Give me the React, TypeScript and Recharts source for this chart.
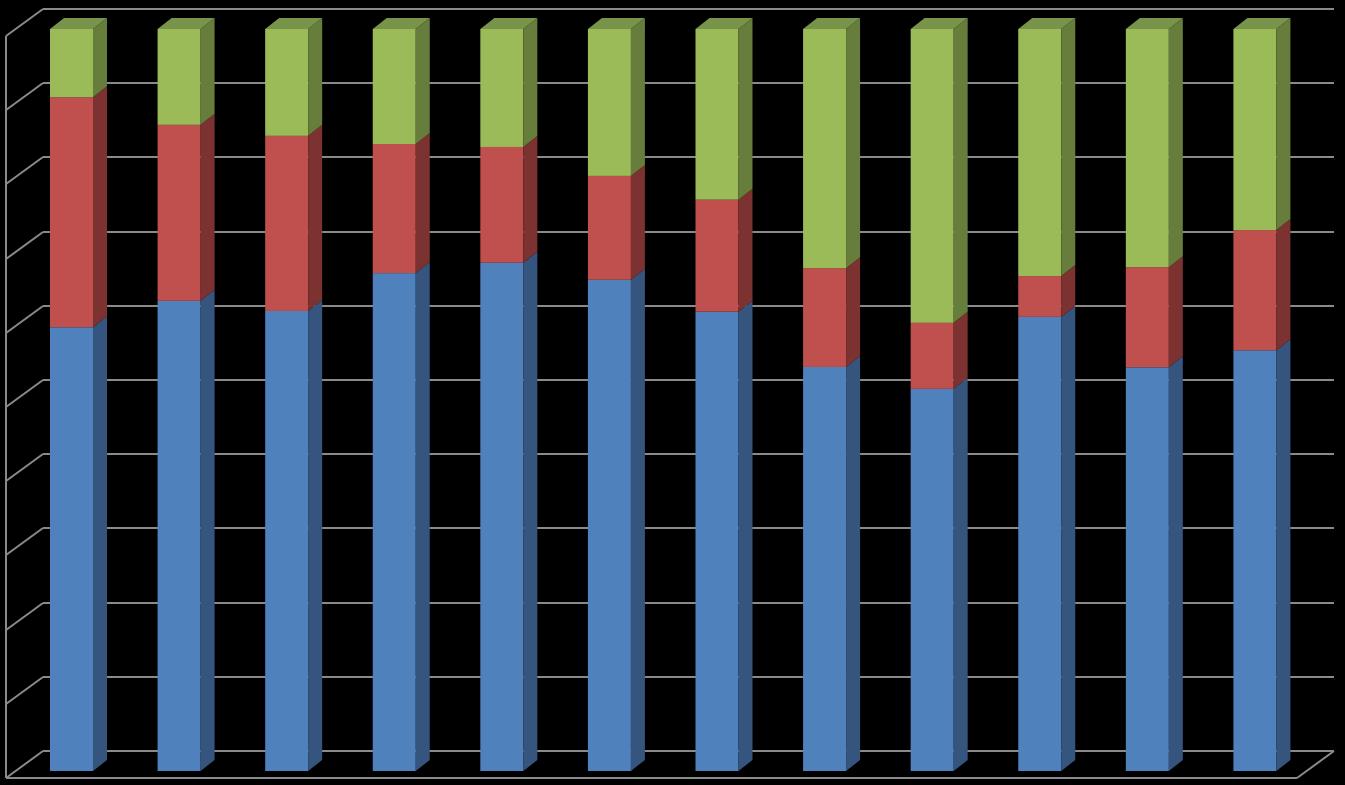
import { BarChart, Bar, XAxis, YAxis, CartesianGrid } from "recharts";

// shares (percent of each stack)
const categories = ["1", "2", "3", "4", "5", "6", "7", "8", "9", "10", "11", "12"];
const blueValues = [59.8, 63.3, 62.0, 67.1, 68.5, 66.2, 61.9, 54.4, 51.5, 61.2, 54.4, 56.7];
const redValues = [31.0, 23.7, 23.6, 17.4, 15.6, 14.0, 15.1, 13.3, 8.9, 5.5, 13.5, 16.2];
const greenValues = [9.2, 12.9, 14.4, 15.5, 15.9, 19.8, 23.0, 32.2, 39.6, 33.3, 32.1, 27.1];
const yTicks = [0, 0.1, 0.2, 0.3, 0.4, 0.5, 0.6, 0.7, 0.8, 0.9, 1];

const WIDTH = 1345;
const HEIGHT = 785;
const MARGIN = { top: 29, right: 36, bottom: 14, left: 18 };
const PLOT_BOTTOM = HEIGHT - MARGIN.bottom;

// depth of the bars and of the walls
const BAR_DX = 14;
const BAR_DY = -11;
const FRONT = { dx: -12, dy: 7 };
const BACK = { dx: 25, dy: -20 };
const GRID_COLOR = "#8a8a8a";

const data = categories.map((name, i) => ({
  name,
  blue: blueValues[i],
  red: redValues[i],
  green: greenValues[i],
}));

function makeShape(front: string, side: string, top?: string) {
  return (props: any) => {
    const { x, y, width, height } = props;
    if (!height || height <= 0) return <g />;
    const r = x + width;
    return (
      <g>
        <rect x={x} y={y} width={width} height={height} fill={front} />
        <polygon
          points={`${r},${y} ${r + BAR_DX},${y + BAR_DY} ${r + BAR_DX},${y + height + BAR_DY} ${r},${y + height}`}
          fill={side}
        />
        {top && (
          <polygon
            points={`${x},${y} ${x + BAR_DX},${y + BAR_DY} ${r + BAR_DX},${y + BAR_DY} ${r},${y}`}
            fill={top}
          />
        )}
      </g>
    );
  };
}

function gridLine(props: any) {
  const { x1, x2, y1, key } = props;
  const y = Math.round(y1);
  const isFloor = Math.abs(y1 - PLOT_BOTTOM) < 1;
  const ln = (ax: number, ay: number, bx: number, by: number) => (
    <line x1={ax} y1={ay} x2={bx} y2={by} stroke={GRID_COLOR} strokeWidth={2} />
  );
  return (
    <g key={key}>
      {ln(x1 + BACK.dx, y + BACK.dy, x2 + BACK.dx, y + BACK.dy)}
      {ln(x1 + FRONT.dx, y + FRONT.dy, x1 + BACK.dx, y + BACK.dy)}
      {isFloor && ln(x1 + FRONT.dx, y + FRONT.dy, x2 + FRONT.dx, y + FRONT.dy)}
      {isFloor && ln(x2 + FRONT.dx, y + FRONT.dy, x2 + BACK.dx, y + BACK.dy)}
      {isFloor && ln(x1 + FRONT.dx, y + FRONT.dy, x1 + FRONT.dx, MARGIN.top + FRONT.dy)}
    </g>
  );
}

const layer: React.CSSProperties = { position: "absolute", left: 0, top: 0 };

export default function App() {
  return (
    <div style={{ position: "relative", width: WIDTH, height: HEIGHT, background: "#000" }}>
      <style>{`body{margin:0;background:#000;}`}</style>
      {/* walls and grid, drawn underneath the bars */}
      <div style={layer}>
        <BarChart width={WIDTH} height={HEIGHT} data={data} margin={MARGIN} stackOffset="expand">
          <CartesianGrid vertical={false} horizontal={gridLine} />
          <XAxis dataKey="name" hide />
          <YAxis hide domain={[0, 1]} ticks={yTicks} />
        </BarChart>
      </div>
      <div style={layer}>
        <BarChart
          width={WIDTH}
          height={HEIGHT}
          data={data}
          margin={MARGIN}
          stackOffset="expand"
          barSize={43}
        >
          <XAxis dataKey="name" hide />
          <YAxis hide domain={[0, 1]} ticks={yTicks} />
          <Bar
            dataKey="blue"
            stackId="a"
            fill="#4F81BD"
            shape={makeShape("#4F81BD", "#35557F")}
            isAnimationActive={false}
          />
          <Bar
            dataKey="red"
            stackId="a"
            fill="#C0504D"
            shape={makeShape("#C0504D", "#7C3230")}
            isAnimationActive={false}
          />
          <Bar
            dataKey="green"
            stackId="a"
            fill="#9BBB59"
            shape={makeShape("#9BBB59", "#677D3B", "#78944A")}
            isAnimationActive={false}
          />
        </BarChart>
      </div>
    </div>
  );
}
